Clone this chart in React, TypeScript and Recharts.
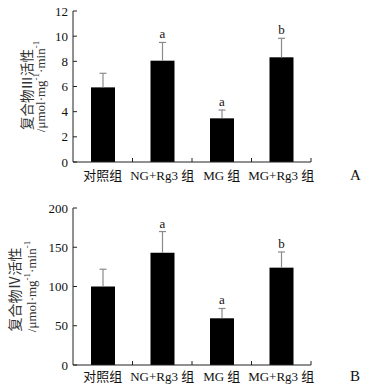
import React from 'react';
import { BarChart, Bar, XAxis, YAxis, Label } from 'recharts';

const categories = ['对照组', 'NG+Rg3 组', 'MG 组', 'MG+Rg3 组'];
const complex3Mean = [5.93, 8.05, 3.47, 8.32];
const complex3Upper = [7.05, 9.5, 4.13, 9.83];
const complex4Mean = [100, 143, 59.5, 124];
const complex4Upper = [122, 170, 72, 144];
const significance = ['', 'a', 'a', 'b'];
const yTicks3 = [0, 2, 4, 6, 8, 10, 12];
const yTicks4 = [0, 50, 100, 150, 200];

const data3 = categories.map((name, i) => ({ name, value: complex3Mean[i], upper: complex3Upper[i], sig: significance[i] }));
const data4 = categories.map((name, i) => ({ name, value: complex4Mean[i], upper: complex4Upper[i], sig: significance[i] }));

const SERIF = '"Liberation Serif", "Times New Roman", "Noto Sans CJK SC", serif';
const AXIS = '#222';
const ERR = '#8a8a8a';

const BarWithError = (props: any) => {
  const { x, y, width, height, payload } = props;
  if (x == null || y == null) return null;
  const perUnit = payload.value ? height / payload.value : 0;
  const errY = y - (payload.upper - payload.value) * perUnit;
  const cx = x + width / 2;
  return (
    <g>
      <rect x={x} y={y} width={width} height={height} fill="#000" />
      <line x1={cx} x2={cx} y1={y} y2={errY} stroke={ERR} strokeWidth={1.2} />
      <line x1={cx - 3.5} x2={cx + 3.5} y1={errY} y2={errY} stroke={ERR} strokeWidth={1.2} />
      {payload.sig ? (
        <text x={cx} y={errY - 4} textAnchor="middle" fontFamily={SERIF} fontSize={13} fill="#111">
          {payload.sig}
        </text>
      ) : null}
    </g>
  );
};

const makeCatTick = (margin: number) => (props: any) => {
  const { x, y, payload } = props;
  const axisY = y - margin;
  const bx = x + (payload.offset ?? 0);
  return (
    <g>
      <line x1={bx} x2={bx} y1={axisY} y2={axisY - 4} stroke={AXIS} strokeWidth={1} />
      <text x={x} y={y} dy="0.71em" textAnchor="middle" fontFamily={SERIF} fontSize={13} fill="#111">
        {payload.value}
      </text>
    </g>
  );
};

const makeYTick = (margin: number) => (props: any) => {
  const { x, y, payload } = props;
  const axisX = x + margin;
  return (
    <g>
      <line x1={axisX} x2={axisX + 4} y1={y} y2={y} stroke={AXIS} strokeWidth={1} />
      <text x={x} y={y} dy="0.35em" textAnchor="end" fontFamily={SERIF} fontSize={13} fill="#111">
        {payload.value}
      </text>
    </g>
  );
};

const makeYLabel = (roman: string, x1: number, x2: number, fs1: number, fs2: number) => (props: any) => {
  const vb = props.viewBox || {};
  const cy = (vb.y ?? 0) + (vb.height ?? 0) / 2;
  return (
    <g fill="#333" fontFamily={SERIF}>
      <text x={x1} y={cy + 3} transform={`rotate(-90 ${x1} ${cy + 3})`} textAnchor="middle" dominantBaseline="central" fontSize={fs1}>
        {`复合物${roman}活性`}
      </text>
      <text x={x2} y={cy} transform={`rotate(-90 ${x2} ${cy})`} textAnchor="middle" dominantBaseline="central" fontSize={fs2}>
        /μmol·mg
        <tspan fontSize={fs2 - 4} dy={-4}>-1</tspan>
        <tspan dy={4}>·min</tspan>
        <tspan fontSize={fs2 - 4} dy={-4}>-1</tspan>
      </text>
    </g>
  );
};

export default function App() {
  return (
    <div style={{ position: 'absolute', left: 0, top: 0, width: 371, height: 388, background: '#fff' }}>
      <div style={{ position: 'absolute', left: 0, top: 0 }}>
        <BarChart width={371} height={195} data={data3} margin={{ top: 11, right: 60, bottom: 3, left: 0 }} barCategoryGap={0}>
          <XAxis dataKey="name" height={30} tickLine={false} tickSize={0} tickMargin={9} axisLine={{ stroke: AXIS }} tick={makeCatTick(9)} interval={0} />
          <YAxis width={73} domain={[0, 12]} ticks={yTicks3} tickLine={false} tickSize={0} tickMargin={5} axisLine={{ stroke: AXIS }} tick={makeYTick(5)} interval={0}>
            <Label content={makeYLabel('Ⅲ', 27, 40, 13.5, 13)} />
          </YAxis>
          <Bar dataKey="value" barSize={24} isAnimationActive={false} shape={BarWithError} />
        </BarChart>
      </div>
      <div style={{ position: 'absolute', left: 0, top: 195 }}>
        <BarChart width={371} height={193} data={data4} margin={{ top: 13, right: 60, bottom: 0, left: 0 }} barCategoryGap={0}>
          <XAxis dataKey="name" height={23} tickLine={false} tickSize={0} tickMargin={7} axisLine={{ stroke: AXIS }} tick={makeCatTick(7)} interval={0} />
          <YAxis width={73} domain={[0, 200]} ticks={yTicks4} tickLine={false} tickSize={0} tickMargin={5} axisLine={{ stroke: AXIS }} tick={makeYTick(5)} interval={0}>
            <Label content={makeYLabel('Ⅳ', 15, 31, 14, 13)} />
          </YAxis>
          <Bar dataKey="value" barSize={24} isAnimationActive={false} shape={BarWithError} />
        </BarChart>
      </div>
      <div style={{ position: 'absolute', left: 350, top: 167, fontFamily: SERIF, fontSize: 15, color: '#111' }}>A</div>
      <div style={{ position: 'absolute', left: 350, top: 368, fontFamily: SERIF, fontSize: 15, color: '#111' }}>B</div>
    </div>
  );
}
